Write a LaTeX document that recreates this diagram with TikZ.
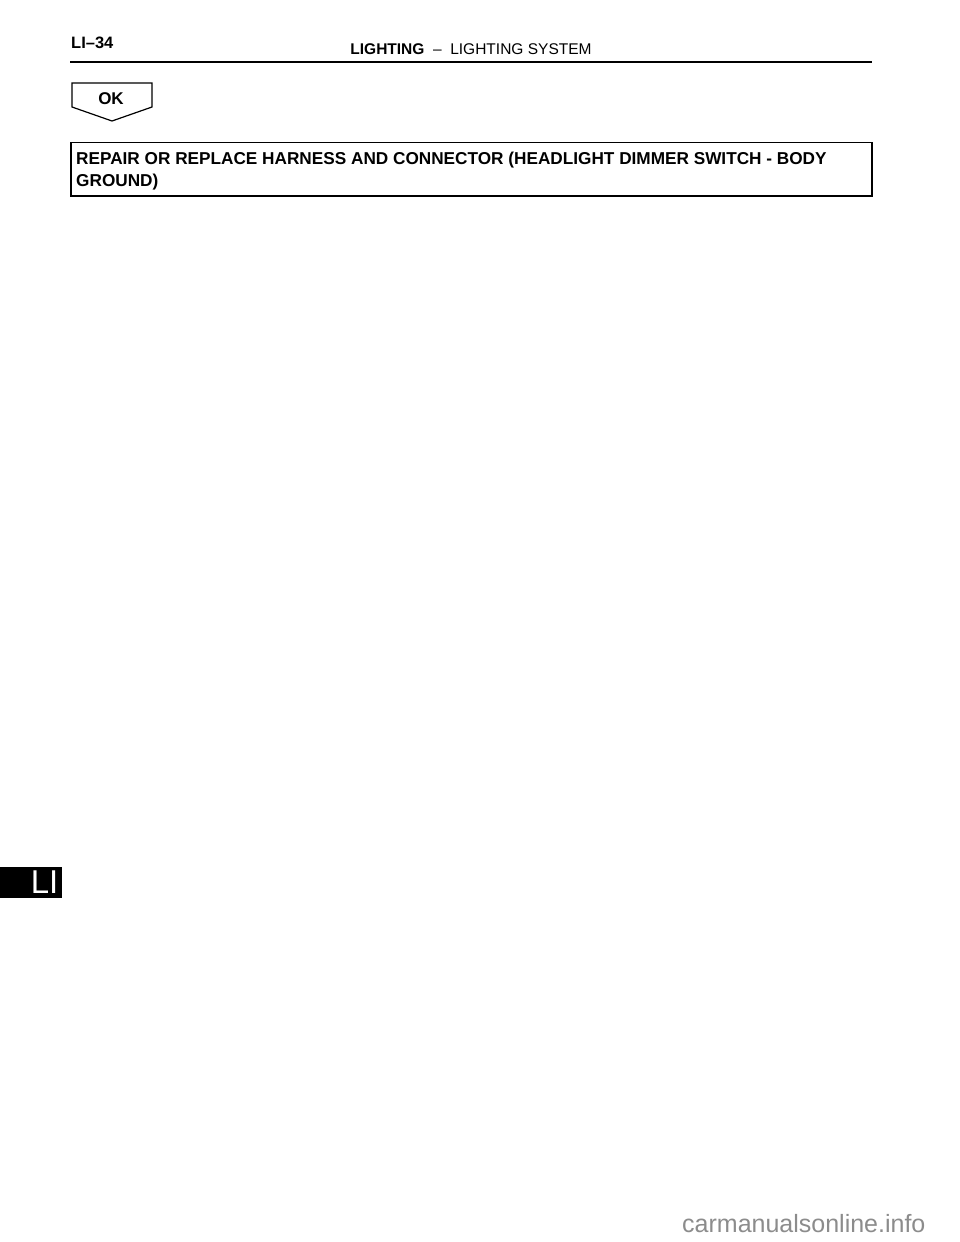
\documentclass[tikz,border=0pt]{standalone}
\usepackage{fontspec}
\setmainfont{Liberation Sans}
\begin{document}
\begin{tikzpicture}[x=1pt,y=-1pt,
  hdr/.style={inner sep=0pt,font=\fontsize{15.5}{18}\selectfont},
  boxline/.style={draw=black,line width=1.6pt},
  maintext/.style={inner sep=0pt,align=left,font=\bfseries\fontsize{17.2}{22}\selectfont}]
\useasboundingbox (0,0) rectangle (960,1242);
\fill[white] (0,0) rectangle (960,1242);
% header
\node[hdr,anchor=base west,font=\bfseries\fontsize{16.5}{18}\selectfont] (pg) at (71,48) {LI--34};
\node[hdr,anchor=base] (title) at (471,54) {\textbf{LIGHTING}\ \ --\ \ LIGHTING SYSTEM};
\draw[line width=2.4pt] (70,62) -- (872,62);
% OK pentagon
\draw[boxline,line width=1.2pt] (72,83) -- (152,83) -- (152,107) -- (112,121) -- (72,107) -- cycle;
\node[inner sep=0pt,anchor=base,font=\bfseries\fontsize{17}{19}\selectfont] (ok) at (111,104.5) {OK};
% main box
\draw[boxline] (71,142.5) rectangle (872,196);
\node[maintext,anchor=base west] (repair) at (76,186) {REPAIR OR REPLACE HARNESS AND CONNECTOR (HEADLIGHT DIMMER SWITCH - BODY\\GROUND)};
% side tab
\fill[black] (0,866.5) rectangle (62,898);
\node[inner sep=0pt,anchor=base east,text=white,font=\fontsize{33}{36}\selectfont] (tab) at (58.5,893) {LI};
% watermark
\node[inner sep=0pt,anchor=base west,text=black!45,font=\fontsize{25}{27}\selectfont] (wm) at (682,1232) {carmanualsonline.info};
\end{tikzpicture}
\end{document}
